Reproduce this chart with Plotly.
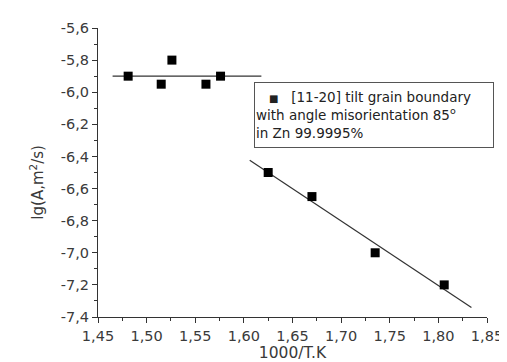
import numpy as np
import plotly.graph_objects as go

# Data
x_high = [1.481, 1.515, 1.526, 1.561, 1.576]
y_high = [-5.90, -5.95, -5.80, -5.95, -5.90]
x_low = [1.625, 1.670, 1.735, 1.806]
y_low = [-6.50, -6.65, -7.00, -7.20]
fit_high_range = [1.465, 1.618]
fit_low_range = [1.606, 1.834]
x_ticks = [1.45, 1.50, 1.55, 1.60, 1.65, 1.70, 1.75, 1.80, 1.85]
y_ticks = [-7.4, -7.2, -7.0, -6.8, -6.6, -6.4, -6.2, -6.0, -5.8, -5.6]
x_ticklabels = ["1,45", "1,50", "1,55", "1,60", "1,65", "1,70", "1,75", "1,80", "1,85"]
y_ticklabels = ["-7,4", "-7,2", "-7,0", "-6,8", "-6,6", "-6,4", "-6,2", "-6,0", "-5,8", "-5,6"]
legend_lines = ["[11-20] tilt grain boundary", "with angle misorientation 85<sup>o</sup>", "in Zn 99.9995%"]
x_title = "1000/T.K"
y_title = "lg(A,m<sup>2</sup>/s)"

# Linear fits
c_high = np.mean(y_high)
p_low = np.polyfit(x_low, y_low, 1)
fx_high = np.array(fit_high_range)
fy_high = np.full_like(fx_high, c_high)
fx_low = np.array(fit_low_range)
fy_low = np.polyval(p_low, fx_low)

font = "DejaVu Sans, Liberation Sans, Arial, sans-serif"
col = "#3a3a3a"
fig = go.Figure()
fig.add_trace(go.Scatter(x=fx_high, y=fy_high, mode="lines",
                         line=dict(color="#333333", width=1.2), showlegend=False))
fig.add_trace(go.Scatter(x=fx_low, y=fy_low, mode="lines",
                         line=dict(color="#333333", width=1.2), showlegend=False))
fig.add_trace(go.Scatter(x=x_high + x_low, y=y_high + y_low, mode="markers",
                         marker=dict(symbol="square", size=9, color="black"),
                         showlegend=False))

nb = "\u00a0"
legend_text = (nb * 3 + "<span style='font-size:10px'>■</span>" + nb * 3 + legend_lines[0] + "<br>" +
               legend_lines[1] + "<br>" + legend_lines[2])
fig.add_annotation(xref="paper", yref="paper", x=0.400, y=0.812,
                   xanchor="left", yanchor="top", align="left", valign="middle",
                   text=legend_text, showarrow=False,
                   font=dict(family=font, size=13.5, color="#222222"),
                   bordercolor="#555555", borderwidth=1, borderpad=1,
                   bgcolor="white", width=236, height=62)

# y-axis title placed as annotation to match reference position
fig.add_annotation(xref="paper", yref="paper", x=-0.156, y=0.466,
                   xanchor="center", yanchor="middle", textangle=-90,
                   text=y_title, showarrow=False,
                   font=dict(family=font, size=15, color=col))

axis_common = dict(showline=True, linecolor="#333333", linewidth=1.2,
                   ticks="outside", ticklen=5, tickcolor="#333333",
                   tickfont=dict(family=font, size=14.5, color=col),
                   showgrid=False, zeroline=False, mirror=False)
fig.update_xaxes(range=[1.45, 1.85], tickmode="array", tickvals=x_ticks, ticktext=x_ticklabels,
                 minor=dict(ticks="outside", ticklen=3, dtick=0.025, tick0=1.45,
                            tickcolor="#333333"),
                 title=dict(text=x_title, font=dict(family=font, size=15.5, color=col),
                            standoff=4),
                 **axis_common)
fig.update_yaxes(range=[-7.4, -5.6], tickmode="array", tickvals=y_ticks, ticktext=y_ticklabels,
                 minor=dict(ticks="outside", ticklen=3, dtick=0.1, tick0=-7.4, tickcolor="#333333"),
                 **axis_common)
fig.update_layout(width=507, height=362, margin=dict(l=90, r=19, t=20, b=52),
                  plot_bgcolor="white", paper_bgcolor="white",
                  showlegend=False)
fig.write_html("out.html")
